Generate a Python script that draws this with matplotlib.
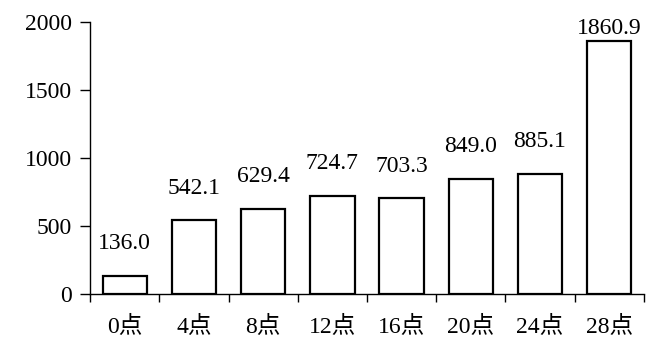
import matplotlib
matplotlib.use("Agg")
import matplotlib.pyplot as plt
import numpy as np

categories = ["0点", "4点", "8点", "12点", "16点", "20点", "24点", "28点"]
values = [136.0, 542.1, 629.4, 724.7, 703.3, 849.0, 885.1, 1860.9]
yticks = [0, 500, 1000, 1500, 2000]

plt.rcParams['font.family'] = ['Liberation Serif', 'Noto Sans CJK SC']
plt.rcParams['font.size'] = 17

fig = plt.figure(figsize=(6.53, 3.40), dpi=100)
ax = fig.add_axes([0.138, 0.135, 0.848, 0.80])
x = np.arange(len(categories))
ax.bar(x, values, width=0.64, color='white', edgecolor='black', linewidth=1.6, zorder=3)

for i, v in enumerate(values):
    off = 23 if i < len(values) - 1 else 9
    ax.annotate(f"{v:.1f}", (x[i], v), xytext=(0, off), textcoords='offset points',
                ha='center', va='center', fontsize=17)

ax.set_xlim(-0.5, len(categories) - 0.5)
ax.set_ylim(0, 2000)
ax.set_yticks(yticks)
ax.set_xticks(x)
ax.set_xticklabels(categories)
ax.set_xticks(np.arange(len(categories) + 1) - 0.5, minor=True)
ax.tick_params(axis='x', which='major', length=0, pad=15)
ax.tick_params(axis='x', which='minor', length=6, width=1, direction='out')
ax.tick_params(axis='y', length=7, width=1, pad=6)
for s in ['top', 'right']:
    ax.spines[s].set_visible(False)
for s in ['left', 'bottom']:
    ax.spines[s].set_linewidth(1)
fig.savefig("out.png", dpi=100)
